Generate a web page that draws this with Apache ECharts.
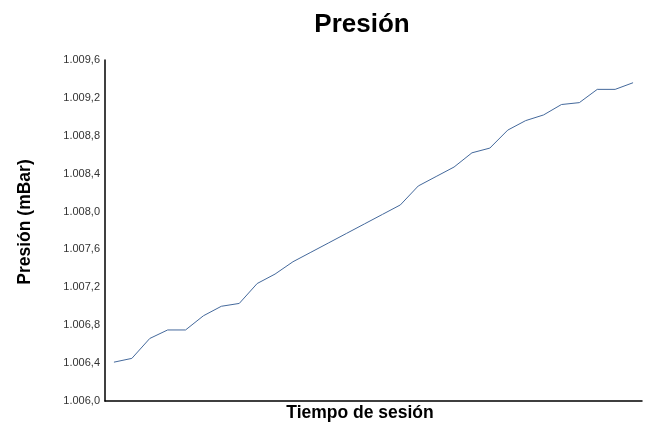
<!DOCTYPE html>
<html>
<head>
<meta charset="utf-8">
<script src="https://cdn.jsdelivr.net/npm/echarts@6/dist/echarts.min.js"></script>
<style>html,body{margin:0;padding:0;background:#fff}#c{width:647px;height:425px}</style>
</head>
<body>
<div id="c"></div>
<script>
const categories = Array.from({length: 30}, (_, i) => String(i + 1));
const presion = [
  1006.41, 1006.45, 1006.66, 1006.75, 1006.75, 1006.90, 1007.00, 1007.03, 1007.24, 1007.34,
  1007.47, 1007.57, 1007.67, 1007.77, 1007.87, 1007.97, 1008.07, 1008.27, 1008.37, 1008.47,
  1008.62, 1008.67, 1008.86, 1008.96, 1009.02, 1009.13, 1009.15, 1009.29, 1009.29, 1009.36
];
const yMin = 1006.0, yMax = 1009.6, yStep = 0.4;

function fmt(v) {
  const s = v.toFixed(1);
  const [ip, dp] = s.split('.');
  return ip.replace(/\B(?=(\d{3})+(?!\d))/g, '.') + ',' + dp;
}

const chart = echarts.init(document.getElementById('c'));
chart.setOption({
  animation: false,
  backgroundColor: '#fff',
  grid: {left: 105, right: 5, top: 60, bottom: 24, containLabel: false},
  xAxis: {
    type: 'category',
    data: categories,
    boundaryGap: true,
    axisLine: {lineStyle: {color: '#000', width: 1.5}},
    axisTick: {show: false},
    axisLabel: {show: false},
    splitLine: {show: false}
  },
  yAxis: {
    type: 'value',
    min: yMin, max: yMax, interval: yStep,
    axisLine: {show: true, lineStyle: {color: '#000', width: 1.5}},
    axisTick: {show: false},
    splitLine: {show: false},
    axisLabel: {
      formatter: fmt,
      color: '#333',
      fontSize: 11,
      fontFamily: 'Liberation Sans, Arial, sans-serif',
      margin: 5
    }
  },
  graphic: [
    {type: 'text', x: 362, y: 25, style: {text: 'Presión', fill: '#000', font: 'bold 26px "Liberation Sans", Arial, sans-serif', align: 'center', verticalAlign: 'middle'}},
    {type: 'text', x: 360, y: 413, style: {text: 'Tiempo de sesión', fill: '#000', font: 'bold 17.5px "Liberation Sans", Arial, sans-serif', align: 'center', verticalAlign: 'middle'}},
    {type: 'text', x: 25, y: 222, rotation: Math.PI / 2, style: {text: 'Presión (mBar)', fill: '#000', font: 'bold 17.5px "Liberation Sans", Arial, sans-serif', align: 'center', verticalAlign: 'middle'}}
  ],
  series: [{
    type: 'line',
    data: presion,
    symbol: 'none',
    lineStyle: {color: '#44699c', width: 1},
    itemStyle: {color: '#44699c'}
  }]
});
</script>
</body>
</html>
